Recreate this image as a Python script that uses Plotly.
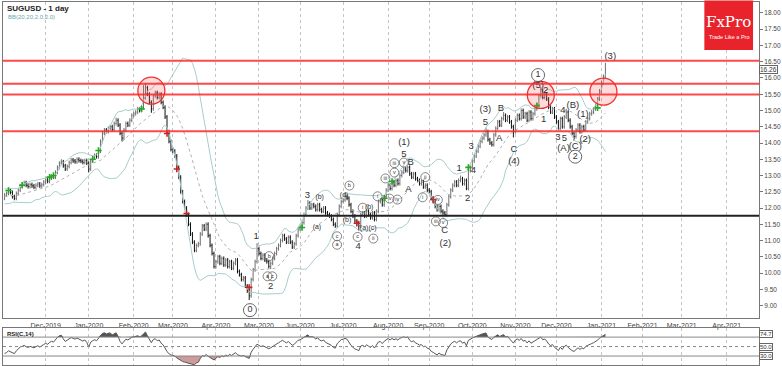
import numpy as np
import pandas as pd
import plotly.graph_objects as go

# ---------------- data ----------------
warmup_close = [12.55, 12.40, 12.20, 12.15, 12.30, 12.45, 12.50, 12.35, 12.20, 12.25,
                12.40, 12.55, 12.45, 12.30, 12.20, 12.35, 12.50, 12.45, 12.30]
close_2019_11 = [12.40, 12.45, 12.55, 12.48, 12.35, 12.30, 12.45, 12.55, 12.68, 12.72, 12.78,
                 12.70, 12.66, 12.72, 12.68, 12.64, 12.70, 12.74, 12.68, 12.72, 12.80]
close_2019_12 = [12.86, 12.82, 12.92, 12.98, 12.95, 13.10, 13.25, 13.38, 13.42, 13.30, 13.20,
                 13.28, 13.40, 13.48, 13.45, 13.42, 13.50, 13.46, 13.44, 13.40, 13.46, 13.38]
close_2020_01 = [13.20, 13.45, 13.55, 13.62, 13.58, 13.75, 14.05, 14.30, 14.40, 14.35, 14.45, 14.50,
                 14.42, 14.60, 14.70, 14.55, 14.30, 14.15, 14.40, 14.60, 14.55, 14.70, 14.85]
close_2020_02 = [14.90, 14.95, 15.05, 15.00, 15.10, 15.40, 15.70, 15.50, 15.25, 15.05,
                 15.45, 15.55, 15.40, 15.50, 15.25, 15.10, 14.80, 14.35, 14.05, 13.80]
close_2020_03 = [13.75, 13.60, 13.25, 12.95, 12.50, 12.20, 12.00, 11.80, 11.50, 11.20, 10.95,
                 10.70, 10.85, 10.90, 11.20, 11.45, 11.35, 11.50, 11.15, 10.85, 10.60, 10.20]
close_2020_04 = [10.35, 10.50, 10.30, 10.45, 10.25, 10.40, 10.20, 10.35, 10.15, 10.30, 10.40,
                 10.05, 9.95, 9.80, 9.85, 9.60, 9.45, 9.30, 9.80, 10.10, 10.35, 10.75]
close_2020_05 = [10.60, 10.45, 10.55, 10.40, 10.35, 10.20, 10.30, 10.45, 10.60, 10.75, 10.85,
                 11.00, 11.15, 11.05, 10.95, 11.10, 10.95, 10.80, 10.90, 11.15, 11.35]
close_2020_06 = [11.40, 11.55, 11.80, 12.00, 12.15, 12.00, 12.10, 12.05, 11.95, 12.10, 11.95,
                 11.90, 12.00, 11.85, 11.80, 11.75, 11.65, 11.50, 11.45, 11.80, 12.05, 12.20]
close_2020_07 = [12.25, 12.35, 12.30, 12.10, 11.90, 11.75, 11.60, 11.55, 11.45, 11.80, 11.85, 11.75,
                 11.90, 11.80, 11.70, 11.85, 11.65, 11.90, 12.20, 12.25, 12.10, 12.35, 12.55]
close_2020_08 = [12.70, 12.60, 12.80, 12.70, 12.85, 12.75, 13.00, 13.10, 13.20, 13.15, 13.25,
                 13.05, 12.95, 13.05, 12.90, 12.85, 12.75, 12.80, 12.65, 12.70, 12.55]
close_2020_09 = [12.50, 12.30, 12.20, 12.05, 11.95, 12.05, 11.90, 11.85, 11.80, 12.10, 12.35,
                 12.55, 12.70, 12.80, 12.70, 12.85, 12.90, 12.75, 12.85, 12.60, 13.15, 13.25]
close_2020_10 = [13.45, 13.60, 13.75, 13.90, 14.05, 14.15, 14.25, 14.35, 14.10, 14.00, 13.95,
                 14.25, 14.45, 14.65, 14.55, 14.75, 14.85, 14.70, 14.80, 14.65, 14.50, 14.35]
close_2020_11 = [14.70, 14.85, 14.75, 15.00, 14.80, 14.90, 14.70, 14.95, 14.75, 14.90, 15.05,
                 15.15, 15.45, 15.60, 15.40, 15.50, 15.35, 15.10, 14.95, 15.05, 14.80]
close_2020_12 = [14.65, 14.45, 14.75, 14.50, 14.80, 14.95, 14.70, 14.50, 14.30, 14.20, 14.40, 14.55,
                 14.35, 14.50, 14.40, 14.65, 14.75, 14.90, 14.95, 15.05, 15.15, 15.35, 15.60]
close_2021_01 = [15.85, 16.05, 16.26]

# notable extremes (visible bar index -> price)
high_marks = {29: 13.50, 57: 14.78, 72: 15.85, 71: 15.78, 129: 10.92, 155: 12.25, 174: 12.48,
              206: 13.30, 233: 13.00, 246: 14.47, 255: 14.95, 274: 15.72, 287: 15.05, 307: 16.47}
low_marks = {43: 13.10, 60: 14.05, 75: 14.93, 125: 9.17, 136: 10.12, 181: 11.30, 225: 11.74,
             236: 12.55, 260: 14.17, 291: 14.07}

levels_red = [16.53, 15.82, 15.49, 14.36]
level_black = 11.76

tick_months = ["2019-12", "2020-01", "2020-02", "2020-03", "2020-04", "2020-05", "2020-06",
               "2020-07", "2020-08", "2020-09", "2020-10", "2020-11", "2020-12", "2021-01",
               "2021-02", "2021-03", "2021-04"]
tick_text = ["Dec-2019", "Jan-2020", "Feb-2020", "Mar-2020", "Apr-2020", "Mar-2020", "Jun-2020",
             "Jul-2020", "Aug-2020", "Sep-2020", "Oct-2020", "Nov-2020", "Dec-2020", "Jan-2021",
             "Feb-2021", "Mar-2021", "Apr-2021"]
price_ticks = [9.00, 9.50, 10.00, 10.50, 11.00, 11.50, 12.00, 12.50, 13.00, 13.50, 14.00,
               14.50, 15.00, 15.50, 16.00, 16.50, 17.00, 17.50, 18.00]

green_i = [2, 9, 23, 25, 45, 48, 70, 152, 194, 198, 237, 272, 303]
green_p = [12.54, 12.70, 12.95, 13.00, 13.50, 13.77, 15.05, 11.40, 12.30, 12.82, 13.25, 15.15, 15.08]
red_i = [83, 88, 93, 125, 180, 219]
red_p = [14.29, 13.20, 11.83, 9.56, 11.53, 12.26]

circle_i = [75, 274, 306]
circle_p = [15.61, 15.48, 15.58]

wave_text = ["1", "2", "3", "4", "(1)", "5", "B", "A", "C", "(2)", "1", "2", "3", "4", "(3)", "5",
             "B", "A", "C", "(4)", "(5)", "2", "1", "4", "(B)", "3", "5", "(A)", "(C)", "(1)", "(2)", "(3)"]
wave_i = [128.5, 136, 154.7, 180.7, 204.1, 204.1, 207.5, 206.3, 224.9, 225.2, 232.3, 236.6, 238.4,
          239.5, 245.7, 245.7, 253.6, 252.7, 260.3, 260.3, 272.6, 276.5, 275.5, 285.3, 290.4, 282.8,
          286.1, 285.6, 291.6, 295.5, 296.7, 309.5]
wave_p = [11.11, 9.57, 12.39, 10.80, 14.02, 13.64, 13.41, 12.56, 11.30, 10.90, 13.20, 12.29, 13.89,
          13.14, 15.02, 14.64, 15.06, 14.14, 13.80, 13.42, 15.76, 15.61, 14.71, 14.99, 15.15, 14.16,
          14.13, 13.82, 13.89, 14.86, 14.10, 16.65]

small_text = ["(b)", "(a)", "(d)", "(b)", "(b)", "(a)(c)"]
small_i = [161, 159.6, 173.5, 175, 186.3, 185.8]
small_p = [12.33, 11.41, 12.38, 11.62, 12.01, 11.37]

circ_text = ["b", "a", "c", "c", "a", "b", "c", "i", "ii", "i", "iii", "v", "iv", "iv", "iii", "v",
             "i", "ii", "iv", "iii", "v"]
circ_i = [135.2, 134.4, 136.8, 169.9, 169.9, 176.2, 180.4, 183, 188.4, 190.6, 194.6, 199.2, 196.7,
          200.7, 199.2, 204, 213.6, 215, 221.4, 220.4, 224.1]
circ_p = [10.52, 9.90, 9.90, 11.13, 10.87, 12.69, 11.11, 12.01, 11.06, 12.36, 12.91, 13.09, 12.29,
          12.26, 13.38, 13.40, 12.33, 12.95, 12.25, 11.59, 11.54]
big_circ_text = ["0", "1", "2"]
big_circ_i = [125.4, 272.6, 291.6]
big_circ_p = [8.86, 16.09, 13.58]

rsi_last_label = "74.7"

# ---------------- series ----------------
close = np.array(warmup_close + close_2019_11 + close_2019_12 + close_2020_01 + close_2020_02 +
                 close_2020_03 + close_2020_04 + close_2020_05 + close_2020_06 + close_2020_07 +
                 close_2020_08 + close_2020_09 + close_2020_10 + close_2020_11 + close_2020_12 +
                 close_2021_01)
n_warm = len(warmup_close)
idx = np.arange(len(close)) - n_warm
open_ = np.r_[close[0], close[:-1]]
wick = 0.06
high = np.maximum(open_, close) + wick
low = np.minimum(open_, close) - wick
for k, v in high_marks.items():
    high[k + n_warm] = v
for k, v in low_marks.items():
    low[k + n_warm] = v

s = pd.Series(close)
mid = s.rolling(20).mean()
sd = s.rolling(20).std(ddof=0)
upper = mid + 2 * sd
lower = mid - 2 * sd

delta = s.diff()
gain = delta.clip(lower=0)
loss = -delta.clip(upper=0)
ag = gain.ewm(alpha=1 / 14, adjust=False, min_periods=14).mean()
al = loss.ewm(alpha=1 / 14, adjust=False, min_periods=14).mean()
rsi = 100 - 100 / (1 + ag / al)

cal = pd.bdate_range("2019-10-07", "2021-05-31")
cal_idx = pd.Series(np.arange(len(cal)) - n_warm, index=cal)
tick_vals = [int(cal_idx[cal_idx.index.strftime("%Y-%m") == m].iloc[0]) for m in tick_months]

vis = idx >= 0
FONT = "Liberation Sans, Arial, sans-serif"

fig = go.Figure()

# Bollinger bands
band_col = "#a8cccc"
fig.add_trace(go.Scatter(x=idx, y=upper, mode="lines", line=dict(color=band_col, width=1),
                         hoverinfo="skip", showlegend=False))
fig.add_trace(go.Scatter(x=idx, y=lower, mode="lines", line=dict(color=band_col, width=1),
                         hoverinfo="skip", showlegend=False))
fig.add_trace(go.Scatter(x=idx, y=mid, mode="lines", line=dict(color="#b0b0b0", width=1, dash="dot"),
                         hoverinfo="skip", showlegend=False))

# price bars
fig.add_trace(go.Ohlc(x=idx[vis], open=open_[vis], high=high[vis], low=low[vis], close=close[vis],
                      increasing=dict(line=dict(color="#6e6e6e", width=1)),
                      decreasing=dict(line=dict(color="#111111", width=1)),
                      tickwidth=0.35, showlegend=False))

# signal markers
fig.add_trace(go.Scatter(x=green_i, y=green_p, mode="markers",
                         marker=dict(symbol="cross-thin", size=4.5, line=dict(color="#22aa22", width=1.6)),
                         showlegend=False))
fig.add_trace(go.Scatter(x=red_i, y=red_p, mode="markers",
                         marker=dict(symbol="cross-thin", size=4.5, line=dict(color="#cc2222", width=1.6)),
                         showlegend=False))

# highlight circles
fig.add_trace(go.Scatter(x=circle_i, y=circle_p, mode="markers",
                         marker=dict(symbol="circle", size=27, color="rgba(255,90,90,0.22)",
                                     line=dict(color="#ee3333", width=1.3)),
                         showlegend=False))

# wave labels
fig.add_trace(go.Scatter(x=wave_i, y=wave_p, mode="text", text=wave_text,
                         textfont=dict(family=FONT, size=9.5, color="#333"), showlegend=False))
fig.add_trace(go.Scatter(x=small_i, y=small_p, mode="text", text=small_text,
                         textfont=dict(family=FONT, size=7, color="#333"), showlegend=False))
fig.add_trace(go.Scatter(x=circ_i, y=circ_p, mode="markers+text", text=circ_text,
                         textposition="middle center",
                         marker=dict(symbol="circle-open", size=9, color="#666", line=dict(width=0.8)),
                         textfont=dict(family=FONT, size=5.5, color="#333"), showlegend=False))
fig.add_trace(go.Scatter(x=big_circ_i, y=big_circ_p, mode="markers+text", text=big_circ_text,
                         textposition="middle center",
                         marker=dict(symbol="circle-open", size=13, color="#555", line=dict(width=0.9)),
                         textfont=dict(family=FONT, size=9, color="#333"), showlegend=False))

# RSI panel
rsi_v = rsi.values
fig.add_trace(go.Scatter(x=idx[vis], y=np.full(vis.sum(), 70.0), mode="lines",
                         line=dict(width=0, color="rgba(0,0,0,0)"), xaxis="x2", yaxis="y2",
                         hoverinfo="skip", showlegend=False))
fig.add_trace(go.Scatter(x=idx[vis], y=np.maximum(rsi_v[vis], 70), mode="lines",
                         line=dict(width=0, color="rgba(0,0,0,0)"), fill="tonexty",
                         fillcolor="#555555", xaxis="x2", yaxis="y2", hoverinfo="skip",
                         showlegend=False))
fig.add_trace(go.Scatter(x=idx[vis], y=np.full(vis.sum(), 30.0), mode="lines",
                         line=dict(width=0, color="rgba(0,0,0,0)"), xaxis="x2", yaxis="y2",
                         hoverinfo="skip", showlegend=False))
fig.add_trace(go.Scatter(x=idx[vis], y=np.minimum(rsi_v[vis], 30), mode="lines",
                         line=dict(width=0, color="rgba(0,0,0,0)"), fill="tonexty",
                         fillcolor="rgba(190,120,120,0.75)", xaxis="x2", yaxis="y2",
                         hoverinfo="skip", showlegend=False))
fig.add_trace(go.Scatter(x=idx[vis], y=rsi_v[vis], mode="lines", line=dict(color="#555", width=1),
                         xaxis="x2", yaxis="y2", showlegend=False))

shapes = []
for lv in levels_red:
    shapes.append(dict(type="line", xref="x domain", yref="y", x0=0, x1=1, y0=lv, y1=lv,
                       line=dict(color="rgba(255,40,40,0.85)", width=2)))
shapes.append(dict(type="line", xref="x domain", yref="y", x0=0, x1=1, y0=level_black,
                   y1=level_black, line=dict(color="#222", width=2)))
for lv, dash in [(70, "solid"), (50, "dot"), (30, "solid")]:
    shapes.append(dict(type="line", xref="x2 domain", yref="y2", x0=0, x1=1, y0=lv, y1=lv,
                       line=dict(color="#888", width=1, dash=dash)))
# FxPro logo box
shapes.append(dict(type="rect", xref="paper", yref="paper", x0=0.9277, x1=0.9921, y0=0.868,
                   y1=1.004, fillcolor="#e8232b", line=dict(width=0), layer="above"))

annotations = [
    dict(text="<b>SUGUSD - 1 day</b>", xref="paper", yref="paper", x=0.002, y=1.0, xanchor="left",
         yanchor="top", showarrow=False, font=dict(family=FONT, size=8, color="#222")),
    dict(text="BB(20,20,2.0,2.0)", xref="paper", yref="paper", x=0.004, y=0.972, xanchor="left",
         yanchor="top", showarrow=False, font=dict(family=FONT, size=6, color="#66aaaa")),
    dict(text="<b>RSI(C,14)</b>", xref="paper", yref="paper", x=0.002, y=0.099, xanchor="left",
         yanchor="top", showarrow=False, font=dict(family=FONT, size=6, color="#222")),
    dict(text="FxPro", xref="paper", yref="paper", x=0.9599, y=0.945, xanchor="center",
         yanchor="middle", showarrow=False,
         font=dict(family="DejaVu Serif, Liberation Serif, serif", size=15, color="white")),
    dict(text="Trade Like a Pro", xref="paper", yref="paper", x=0.9599, y=0.904, xanchor="center",
         yanchor="middle", showarrow=False, font=dict(family=FONT, size=5.5, color="white")),
    dict(text=f"{close[-1]:.2f}", xref="paper", yref="y", x=1.0, y=float(close[-1]), xanchor="left",
         yanchor="middle", showarrow=False, bordercolor="#666", borderwidth=1, borderpad=0,
         bgcolor="white", font=dict(family=FONT, size=6.5, color="#333")),
    dict(text=rsi_last_label, xref="paper", yref="y2", x=1.0, y=float(rsi_v[-1]), xanchor="left",
         yanchor="middle", showarrow=False, bordercolor="#666", borderwidth=1, borderpad=0,
         bgcolor="white", font=dict(family=FONT, size=6, color="#333")),
]
for lv in [50, 30]:
    annotations.append(dict(text=f"{lv:.1f}", xref="paper", yref="y2", x=1.0, y=lv, xanchor="left",
                            yanchor="middle", showarrow=False, bordercolor="#666", borderwidth=1,
                            borderpad=0, bgcolor="white",
                            font=dict(family=FONT, size=6, color="#333")))

xr = [-0.81, 385.5]
fig.update_layout(
    width=782, height=366, margin=dict(l=3, r=18, t=1, b=1),
    paper_bgcolor="white", plot_bgcolor="white",
    shapes=shapes, annotations=annotations,
    xaxis=dict(domain=[0, 1], range=xr, tickvals=tick_vals, ticktext=tick_text, showgrid=True,
               gridcolor="#c4c4c4", griddash="dot", gridwidth=1, showline=True, mirror=True,
               linecolor="#777", ticks="", zeroline=False, rangeslider=dict(visible=False),
               tickfont=dict(family=FONT, size=7, color="#444"), anchor="y"),
    yaxis=dict(domain=[0.1291, 1], range=[8.613, 18.337], side="right", tickvals=price_ticks,
               tickformat=".2f", showgrid=False, showline=True, mirror=True, linecolor="#777",
               ticks="outside", ticklen=3, tickcolor="#777", zeroline=False,
               tickfont=dict(family=FONT, size=6.5, color="#444"), anchor="x"),
    xaxis2=dict(domain=[0, 1], range=xr, tickvals=tick_vals, showticklabels=False, showgrid=True,
                gridcolor="#c4c4c4", griddash="dot", showline=True, mirror=True, linecolor="#777",
                zeroline=False, anchor="y2", matches="x"),
    yaxis2=dict(domain=[0, 0.1016], range=[11, 89], side="right", showticklabels=False,
                showgrid=False, showline=True, mirror=True, linecolor="#777", zeroline=False,
                anchor="x2"),
)

fig.write_html("out.html")
